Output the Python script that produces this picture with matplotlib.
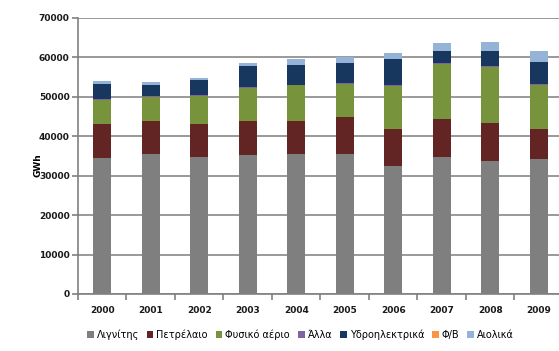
import numpy as np
import matplotlib.pyplot as plt

years = ["2000", "2001", "2002", "2003", "2004", "2005", "2006", "2007", "2008", "2009"]

# electricity generation by source, GWh
lignite = [34500, 35500, 34600, 35200, 35500, 35500, 32500, 34800, 33600, 34300]
oil = [8600, 8200, 8500, 8500, 8200, 9300, 9300, 9500, 9600, 7500]
gas = [6100, 6300, 7100, 8400, 9100, 8400, 10900, 14000, 14200, 11200]
other = [200, 200, 200, 200, 200, 200, 200, 200, 200, 200]
hydro = [3800, 2800, 3750, 5300, 5100, 5200, 6500, 3100, 4000, 5500]
pv = [0, 0, 0, 0, 0, 0, 0, 0, 10, 20]
wind = [700, 800, 500, 800, 1300, 1300, 1700, 1900, 2190, 2780]

labels = ["Λιγνίτης", "Πετρέλαιο", "Φυσικό αέριο", "Άλλα", "Υδροηλεκτρικά", "Φ/Β", "Αιολικά"]
colors = ["#7f7f7f", "#632523", "#77933c", "#8064a2", "#17375e", "#f79646", "#95b3d7"]
series = [lignite, oil, gas, other, hydro, pv, wind]

fig = plt.figure(figsize=(5.59, 3.51), dpi=100)
ax = fig.add_axes([0.1395, 0.1624, 0.8676, 0.7877])

x = np.arange(len(years))
bottom = np.zeros(len(years))
for vals, lab, col in zip(series, labels, colors):
    ax.bar(x, vals, 0.38, bottom=bottom, color=col, label=lab, zorder=3)
    bottom += np.array(vals)

ax.set_ylim(0, 70000)
ax.set_yticks(np.arange(0, 70001, 10000))
ax.set_xlim(-0.5, len(years) - 0.5)
ax.set_xticks(x)
ax.set_xticklabels(years)
ax.set_xticks(np.arange(-0.5, len(years), 1), minor=True)
ax.tick_params(axis="x", which="major", length=0, pad=9)
ax.tick_params(axis="x", which="minor", length=4, color="#808080", width=1.2)
ax.tick_params(axis="y", length=4, color="#808080", width=1.2, pad=2)
for t in ax.get_xticklabels() + ax.get_yticklabels():
    t.set_fontsize(6.5)
    t.set_fontweight("bold")
    t.set_color("#1a1a1a")

ax.grid(axis="y", color="#888888", linewidth=1.2, zorder=0)
for s in ["top", "right"]:
    ax.spines[s].set_visible(False)
ax.spines["left"].set_color("#808080")
ax.spines["left"].set_linewidth(1.2)
ax.spines["bottom"].set_color("#808080")
ax.spines["bottom"].set_linewidth(1.2)

fig.text(0.068, 0.53, "GWh", rotation=90, fontsize=6.5, fontweight="bold",
         ha="center", va="center")

fig.legend(loc="center", bbox_to_anchor=(0.537, 0.046), ncol=7, frameon=False,
           fontsize=7, handlelength=0.7, handleheight=0.7, handletextpad=0.3,
           columnspacing=0.8)

fig.savefig("out.png", dpi=100)
